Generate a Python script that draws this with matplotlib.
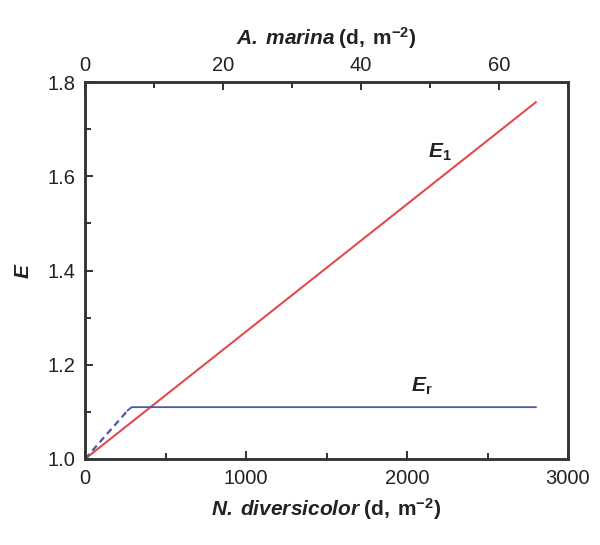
import matplotlib
matplotlib.use("Agg")
import matplotlib.pyplot as plt
from matplotlib.ticker import MultipleLocator

plt.rcParams['font.family'] = ['Liberation Sans', 'DejaVu Sans']
plt.rcParams['mathtext.fontset'] = 'custom'
plt.rcParams['mathtext.rm'] = 'Liberation Sans'
plt.rcParams['mathtext.it'] = 'Liberation Sans:italic'
plt.rcParams['mathtext.bf'] = 'Liberation Sans:bold'
plt.rcParams['mathtext.bfit'] = 'Liberation Sans:bold:italic'

# Data
e1_x = [0, 2800]
e1_y = [1.0, 1.757]
er_dash_x = [0, 265]
er_dash_y = [1.0, 1.103]
er_solid_x = [265, 290, 2800]
er_solid_y = [1.103, 1.11, 1.11]
bottom_ticks = [0, 1000, 2000, 3000]
top_ticks = [0, 20, 40, 60]
y_ticks = [1.0, 1.2, 1.4, 1.6, 1.8]

fig = plt.figure(figsize=(6.0, 5.45), dpi=100)
ax = fig.add_axes([85/600, (545-459)/545, (568-85)/600, (459-82)/545])

red = '#e34a4f'
blue = '#4a5aa6'
ax.plot(e1_x, e1_y, color=red, lw=1.5)
ax.plot(er_dash_x, er_dash_y, color=blue, lw=1.6, ls=(0, (3, 2)))
ax.plot(er_solid_x, er_solid_y, color=blue, lw=1.3)

ax.set_xlim(0, 3000)
ax.set_ylim(1.0, 1.8)
ax.set_xticks(bottom_ticks)
ax.set_yticks(y_ticks)
ax.set_yticklabels([f"{v:.1f}" for v in y_ticks])
ax.xaxis.set_minor_locator(MultipleLocator(500))
ax.yaxis.set_minor_locator(MultipleLocator(0.1))
ax.tick_params(which='both', direction='in', top=False, right=False, labelsize=14.5, width=1.3, colors='#222222')
ax.tick_params(which='major', length=6, pad=7)
ax.tick_params(which='minor', length=4)
for s in ax.spines.values():
    s.set_linewidth(1.8)
    s.set_color('#333333')

ax2 = ax.twiny()
ax2.set_xlim(0, 70)
ax2.set_xticks(top_ticks)
ax2.xaxis.set_minor_locator(MultipleLocator(10))
ax2.tick_params(which='both', direction='in', labelsize=14.5, width=1.3, colors='#222222')
ax2.tick_params(which='major', length=6, pad=5)
ax2.tick_params(which='minor', length=4)
for s in ax2.spines.values():
    s.set_linewidth(1.8)
    s.set_color('#333333')

ax.set_xlabel(r'$\mathbfit{N.\;diversicolor}\;\mathbf{(d,\;m^{-2})}$', fontsize=15, labelpad=6, color='#222222')
ax2.set_xlabel(r'$\mathbfit{A.\;marina}\;\mathbf{(d,\;m^{-2})}$', fontsize=15, labelpad=8, color='#222222')
ax.set_ylabel(r'$\mathbfit{E}$', fontsize=15, labelpad=10, color='#222222')

ax.text(2205, 1.651, r'$\mathbfit{E}_{\mathbf{1}}$', fontsize=15, ha='center', va='center', color='#222222')
ax.text(2093, 1.155, r'$\mathbfit{E}_{\mathbf{r}}$', fontsize=15, ha='center', va='center', color='#222222')

fig.savefig('out.png', dpi=100)
